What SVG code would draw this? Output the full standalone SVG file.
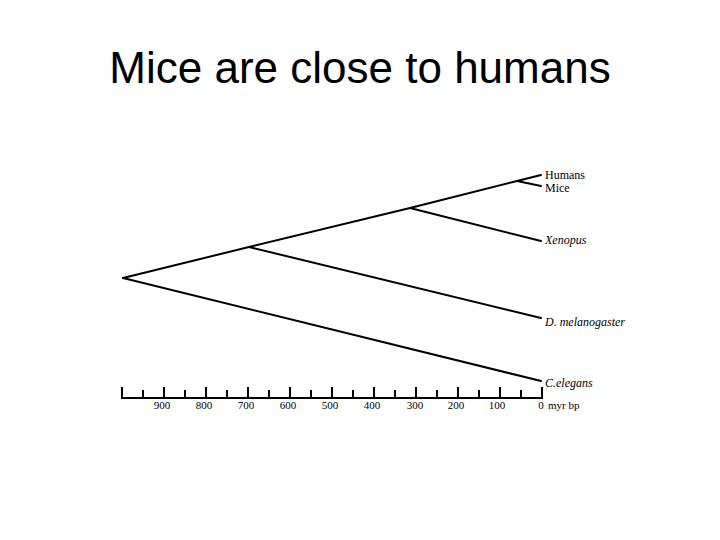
<svg xmlns="http://www.w3.org/2000/svg" width="720" height="540" viewBox="0 0 720 540">
<style>
.title{font-family:"Liberation Sans",Arial,sans-serif;font-size:44px;fill:#000}
.leaf{font-family:"Liberation Serif","Times New Roman",serif;font-size:12px;fill:#000}
.it{font-style:italic}
.ax{font-family:"Liberation Serif","Times New Roman",serif;font-size:11px;fill:#000;text-anchor:middle}
.unit{font-family:"Liberation Serif","Times New Roman",serif;font-size:11px;fill:#000;text-anchor:start}
.br{fill:none;stroke:#000;stroke-width:2;stroke-linecap:round;stroke-linejoin:round}
.tk{stroke:#000;stroke-width:2}
</style>
<rect width="720" height="540" fill="#fff"/>
<text id="title" class="title" x="360" y="83" text-anchor="middle">Mice are close to humans</text>
<g id="connectors">
<polyline class="br" points="123,278 249,247 410,208 517,181 541,175"/>
<line class="br" x1="517" y1="181" x2="541" y2="186"/>
<line class="br" x1="410" y1="208" x2="541" y2="241"/>
<line class="br" x1="249" y1="247" x2="541" y2="318"/>
<line class="br" x1="123" y1="278" x2="541" y2="381"/>
</g>
<g id="humans"><text class="leaf" x="545" y="178.5">Humans</text></g>
<g id="mice"><text class="leaf" x="545" y="192">Mice</text></g>
<g id="xenopus"><text class="leaf it" x="545" y="244">Xenopus</text></g>
<g id="dmelanogaster"><text class="leaf it" x="545" y="326">D. melanogaster</text></g>
<g id="celegans"><text class="leaf it" x="545" y="387">C.elegans</text></g>
<g id="axis">
<line class="tk" x1="121" y1="398" x2="543" y2="398"/>
<g class="tk">
<line x1="122" y1="387" x2="122" y2="398"/>
<line x1="143" y1="390" x2="143" y2="398"/>
<line x1="164" y1="387" x2="164" y2="398"/>
<line x1="185" y1="390" x2="185" y2="398"/>
<line x1="206" y1="387" x2="206" y2="398"/>
<line x1="227" y1="390" x2="227" y2="398"/>
<line x1="248" y1="387" x2="248" y2="398"/>
<line x1="269" y1="390" x2="269" y2="398"/>
<line x1="290" y1="387" x2="290" y2="398"/>
<line x1="311" y1="390" x2="311" y2="398"/>
<line x1="332" y1="387" x2="332" y2="398"/>
<line x1="353" y1="390" x2="353" y2="398"/>
<line x1="374" y1="387" x2="374" y2="398"/>
<line x1="395" y1="390" x2="395" y2="398"/>
<line x1="416" y1="387" x2="416" y2="398"/>
<line x1="437" y1="390" x2="437" y2="398"/>
<line x1="458" y1="387" x2="458" y2="398"/>
<line x1="479" y1="390" x2="479" y2="398"/>
<line x1="500" y1="387" x2="500" y2="398"/>
<line x1="521" y1="390" x2="521" y2="398"/>
<line x1="542" y1="387" x2="542" y2="398"/>
</g>
<text class="ax" x="162" y="409">900</text>
<text class="ax" x="204" y="409">800</text>
<text class="ax" x="246" y="409">700</text>
<text class="ax" x="288" y="409">600</text>
<text class="ax" x="330" y="409">500</text>
<text class="ax" x="372" y="409">400</text>
<text class="ax" x="415" y="409">300</text>
<text class="ax" x="456" y="409">200</text>
<text class="ax" x="497" y="409">100</text>
<text class="ax" x="541" y="409">0</text>
<text class="unit" x="548" y="409">myr bp</text>
</g>
</svg>
